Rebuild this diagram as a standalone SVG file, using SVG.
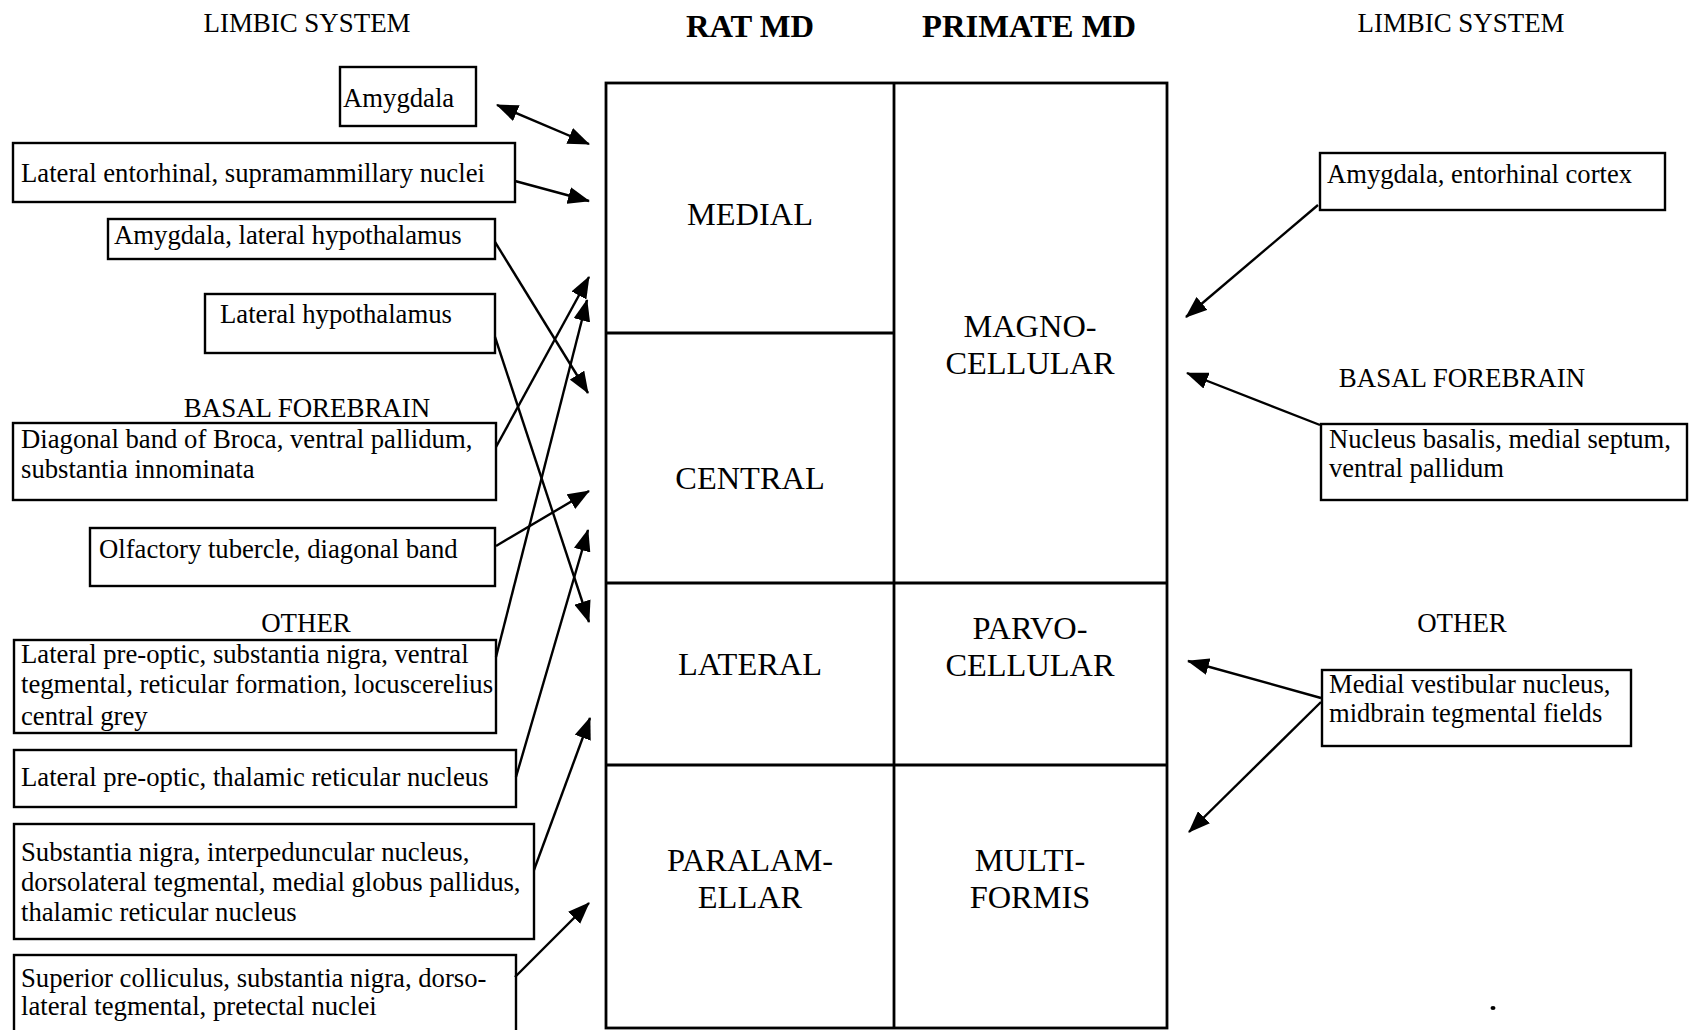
<svg xmlns="http://www.w3.org/2000/svg" width="1689" height="1030" viewBox="0 0 1689 1030">
<style>
text{font-family:"Liberation Serif","Times New Roman",serif;fill:#000}
.lbl{font-size:26.9px;text-anchor:middle}
.hdr{font-size:32.6px;font-weight:bold;text-anchor:middle}
.cell{font-size:32.4px;text-anchor:middle}
.bt{font-size:26.7px}
.rt{font-size:26.6px}
.box{fill:#fff;stroke:#000;stroke-width:2.4}
.grid{fill:none;stroke:#000;stroke-width:2.8}
.conn line{stroke:#000;stroke-width:2.4;marker-end:url(#ah)}
</style>
<defs>
<marker id="ah" viewBox="0 0 22 17" refX="21" refY="8.5" markerWidth="22" markerHeight="17" markerUnits="userSpaceOnUse" orient="auto-start-reverse">
<path d="M0,0 L22,8.5 L0,17 z" fill="#000"/>
</marker>
</defs>
<rect width="1689" height="1030" fill="#fff"/>

<g id="headings">
<text class="lbl" x="307" y="32">LIMBIC SYSTEM</text>
<text class="hdr" x="750" y="37">RAT MD</text>
<text class="hdr" x="1029" y="37">PRIMATE MD</text>
<text class="lbl" x="1461" y="32">LIMBIC SYSTEM</text>
<text class="lbl" x="307" y="417">BASAL FOREBRAIN</text>
<text class="lbl" x="306" y="632">OTHER</text>
<text class="lbl" x="1462" y="387">BASAL FOREBRAIN</text>
<text class="lbl" x="1462" y="632">OTHER</text>
</g>

<g id="md-table">
<rect class="grid" x="606" y="83" width="561" height="945"/>
<line class="grid" x1="894" y1="83" x2="894" y2="1028"/>
<line class="grid" x1="606" y1="333" x2="894" y2="333"/>
<line class="grid" x1="606" y1="583" x2="1167" y2="583"/>
<line class="grid" x1="606" y1="765" x2="1167" y2="765"/>
</g>
<g id="rat-medial"><text class="cell" x="750" y="225">MEDIAL</text></g>
<g id="rat-central"><text class="cell" x="750" y="489">CENTRAL</text></g>
<g id="rat-lateral"><text class="cell" x="750" y="675">LATERAL</text></g>
<g id="rat-paralamellar"><text class="cell" x="750" y="871">PARALAM-</text><text class="cell" x="750" y="908">ELLAR</text></g>
<g id="pri-magno"><text class="cell" x="1030" y="337">MAGNO-</text><text class="cell" x="1030" y="374">CELLULAR</text></g>
<g id="pri-parvo"><text class="cell" x="1030" y="639">PARVO-</text><text class="cell" x="1030" y="676">CELLULAR</text></g>
<g id="pri-multi"><text class="cell" x="1030" y="871">MULTI-</text><text class="cell" x="1030" y="908">FORMIS</text></g>

<g id="L1"><rect class="box" x="340" y="67" width="136" height="59"/><text class="bt" x="343" y="107">Amygdala</text></g>
<g id="L2"><rect class="box" x="13" y="143" width="502" height="59"/><text class="bt" x="21" y="182">Lateral entorhinal, supramammillary nuclei</text></g>
<g id="L3"><rect class="box" x="108" y="219" width="387" height="40"/><text class="bt" x="114" y="244">Amygdala, lateral hypothalamus</text></g>
<g id="L4"><rect class="box" x="205" y="294" width="290" height="59"/><text class="bt" x="220" y="323">Lateral hypothalamus</text></g>
<g id="L5"><rect class="box" x="13" y="423" width="483" height="77"/><text class="bt" x="21" y="448">Diagonal band of Broca, ventral pallidum,</text><text class="bt" x="21" y="478">substantia innominata</text></g>
<g id="L6"><rect class="box" x="90" y="528" width="405" height="58"/><text class="bt" x="99" y="558">Olfactory tubercle, diagonal band</text></g>
<g id="L7"><rect class="box" x="14" y="640" width="482" height="93"/><text class="bt" x="21" y="663">Lateral pre-optic, substantia nigra, ventral</text><text class="bt" x="21" y="693">tegmental, reticular formation, locuscerelius</text><text class="bt" x="21" y="725">central grey</text></g>
<g id="L8"><rect class="box" x="14" y="750" width="502" height="57"/><text class="bt" x="21" y="786">Lateral pre-optic, thalamic reticular nucleus</text></g>
<g id="L9"><rect class="box" x="14" y="824" width="520" height="115"/><text class="bt" x="21" y="861">Substantia nigra, interpeduncular nucleus,</text><text class="bt" x="21" y="891">dorsolateral tegmental, medial globus pallidus,</text><text class="bt" x="21" y="921">thalamic reticular nucleus</text></g>
<g id="L10"><rect class="box" x="14" y="955" width="502" height="90"/><text class="bt" x="21" y="987">Superior colliculus, substantia nigra, dorso-</text><text class="bt" x="21" y="1015">lateral tegmental, pretectal nuclei</text></g>

<g id="R1"><rect class="box" x="1320" y="153" width="345" height="57"/><text class="rt" x="1327" y="183">Amygdala, entorhinal cortex</text></g>
<g id="R2"><rect class="box" x="1321" y="424" width="366" height="76"/><text class="rt" x="1329" y="448">Nucleus basalis, medial septum,</text><text class="rt" x="1329" y="477">ventral pallidum</text></g>
<g id="R3"><rect class="box" x="1322" y="670" width="309" height="76"/><text class="rt" x="1329" y="693">Medial vestibular nucleus,</text><text class="rt" x="1329" y="722">midbrain tegmental fields</text></g>

<g id="connectors" class="conn">
<line x1="497" y1="105" x2="589" y2="144" marker-start="url(#ah)"/>
<line x1="515" y1="181" x2="589" y2="201"/>
<line x1="495" y1="242" x2="588" y2="393"/>
<line x1="495" y1="337" x2="589" y2="622"/>
<line x1="496" y1="447" x2="589" y2="277"/>
<line x1="496" y1="546" x2="589" y2="491"/>
<line x1="496" y1="657" x2="587" y2="300"/>
<line x1="516" y1="777" x2="588" y2="530"/>
<line x1="534" y1="870" x2="590" y2="718"/>
<line x1="515" y1="977" x2="589" y2="903"/>
<line x1="1318" y1="205" x2="1186" y2="317"/>
<line x1="1320" y1="425" x2="1187" y2="373"/>
<line x1="1321" y1="698" x2="1188" y2="661"/>
<line x1="1321" y1="702" x2="1189" y2="832"/>
</g>
<ellipse cx="1493" cy="1008" rx="2.5" ry="2" fill="#000"/>
</svg>
